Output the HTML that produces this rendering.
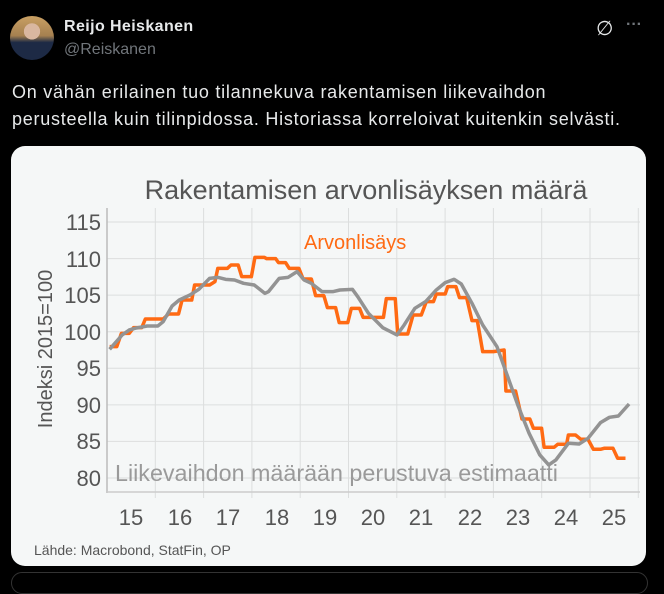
<!DOCTYPE html>
<html><head><meta charset="utf-8"><style>
body{margin:0;width:664px;height:579px;background:#000;overflow:hidden;font-family:"Liberation Sans","DejaVu Sans",sans-serif;position:relative}
.a{position:absolute;white-space:nowrap}
</style></head><body>
<div class="a" style="left:10px;top:16px;width:44px;height:44px;border-radius:50%;background:radial-gradient(circle at 50% 35%,#d9b7a0 0 22%,transparent 23%),linear-gradient(180deg,#c9a064 0%,#a58050 45%,#1d2a45 60%,#1d2a45 100%)"></div>
<div class="a" style="left:64px;top:18px;color:#e7e9ea;font-weight:bold;font-size:16px;letter-spacing:0.4px">Reijo Heiskanen</div>
<div class="a" style="left:64px;top:41px;color:#71767b;font-size:16px">@Reiskanen</div>
<div class="a" style="left:596px;top:16px;color:#e7e9ea;font-size:20px">∅</div>
<div class="a" style="left:626px;top:16px;color:#71767b;font-size:16px;font-weight:bold">···</div>
<div class="a" style="left:12px;top:79px;color:#e7e9ea;font-size:18px;letter-spacing:0.75px;line-height:27px">On vähän erilainen tuo tilannekuva rakentamisen liikevaihdon<br>perusteella kuin tilinpidossa. Historiassa korreloivat kuitenkin selvästi.</div>
<div class="a" style="left:11px;top:146px;width:635px;height:420px;border-radius:14px;background:#f5f7f7"></div>
<div class="a" style="left:11px;top:572px;width:635px;height:20px;border-radius:14px;border:1px solid #333"></div>
<svg class="a" style="left:0;top:0" width="664" height="579">
<g stroke="#dcdede" stroke-width="1">
<line x1="107" x2="640" y1="222" y2="222"/><line x1="107" x2="640" y1="258.6" y2="258.6"/><line x1="107" x2="640" y1="295.1" y2="295.1"/><line x1="107" x2="640" y1="331.7" y2="331.7"/><line x1="107" x2="640" y1="368.3" y2="368.3"/><line x1="107" x2="640" y1="404.9" y2="404.9"/><line x1="107" x2="640" y1="441.4" y2="441.4"/><line x1="107" x2="640" y1="478" y2="478"/>
<line x1="155.3" x2="155.3" y1="208" y2="498"/><line x1="203.6" x2="203.6" y1="208" y2="498"/><line x1="251.9" x2="251.9" y1="208" y2="498"/><line x1="300.2" x2="300.2" y1="208" y2="498"/><line x1="348.5" x2="348.5" y1="208" y2="498"/><line x1="396.8" x2="396.8" y1="208" y2="498"/><line x1="445.1" x2="445.1" y1="208" y2="498"/><line x1="493.4" x2="493.4" y1="208" y2="498"/><line x1="541.7" x2="541.7" y1="208" y2="498"/><line x1="590" x2="590" y1="208" y2="498"/><line x1="638.3" x2="638.3" y1="208" y2="498"/>
</g>
<line x1="107" x2="107" y1="208" y2="493" stroke="#bbb" stroke-width="1.5"/>
<line x1="107" x2="640" y1="492" y2="492" stroke="#ccc" stroke-width="1.5"/>
<text x="366" y="199" text-anchor="middle" font-size="27" fill="#555">Rakentamisen arvonlisäyksen määrä</text>
<g font-size="22" fill="#555" text-anchor="end">
<text x="101" y="230">115</text><text x="101" y="267">110</text><text x="101" y="303">105</text><text x="101" y="340">100</text><text x="101" y="376">95</text><text x="101" y="413">90</text><text x="101" y="449">85</text><text x="101" y="486">80</text></g>
<g font-size="22" fill="#555" text-anchor="middle">
<text x="131" y="525">15</text><text x="180" y="525">16</text><text x="228" y="525">17</text><text x="277" y="525">18</text><text x="325" y="525">19</text><text x="373" y="525">20</text><text x="421" y="525">21</text><text x="470" y="525">22</text><text x="518" y="525">23</text><text x="566" y="525">24</text><text x="614" y="525">25</text></g>
<text transform="translate(52,349) rotate(-90)" text-anchor="middle" font-size="20" fill="#555">Indeksi 2015=100</text>
<text x="304" y="249" font-size="20" fill="#ff6a13">Arvonlisäys</text>
<text x="115" y="481" font-size="23.3" fill="#9a9a9a">Liikevaihdon määrään perustuva estimaatti</text>
<text x="34" y="555" font-size="14" fill="#555">Lähde: Macrobond, StatFin, OP</text>
<g transform="translate(90,200) scale(0.357,0.3333)" fill="none" stroke-linejoin="round">
<polyline vector-effect="non-scaling-stroke" stroke="#ff6a13" stroke-width="3.5" points="55,440 75,440 88,400 110,400 122,383 145,383 155,357 205,357 220,342 248,342 258,300 285,300 293,255 335,255 350,245 358,205 385,205 395,195 415,195 425,230 452,230 462,172 488,172 495,176 520,176 528,188 548,188 558,205 585,205 597,237 620,237 632,287 655,287 665,323 688,323 698,368 722,368 732,325 755,325 765,352 822,352 830,296 855,296 862,402 890,402 905,345 928,345 942,305 962,305 970,282 995,282 1002,260 1025,260 1035,293 1055,293 1070,362 1085,362 1100,455 1130,455 1160,450 1165,573 1192,573 1210,657 1232,657 1242,685 1265,685 1272,742 1300,742 1310,733 1335,733 1340,705 1360,705 1375,718 1395,718 1410,748 1430,748 1440,745 1465,745 1478,775 1500,775"/>
<polyline vector-effect="non-scaling-stroke" stroke="#939393" stroke-width="3.5" points="55,448 90,405 110,390 130,384 160,378 190,378 205,365 230,318 250,300 280,285 305,268 335,235 358,232 380,238 405,240 430,250 460,255 490,280 500,275 530,235 555,232 580,215 600,240 620,250 650,275 680,275 700,270 735,268 750,290 780,340 820,383 860,405 880,375 910,325 940,305 970,270 995,248 1020,238 1040,252 1070,310 1100,375 1140,440 1170,530 1200,620 1230,700 1260,765 1285,795 1305,780 1340,730 1370,732 1395,715 1430,668 1455,652 1480,648 1510,612"/>
</g>
</svg>
</body></html>
